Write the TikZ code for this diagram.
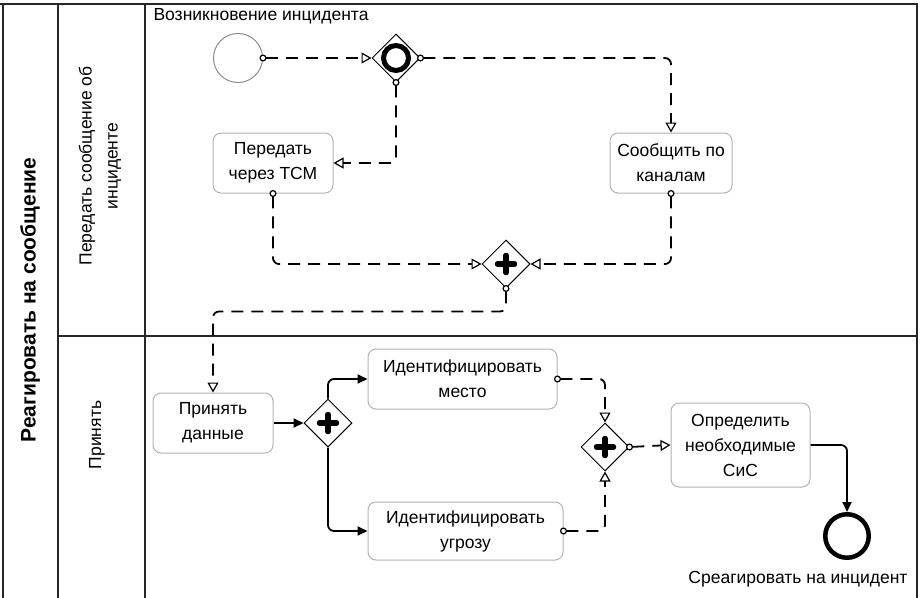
\documentclass[tikz,border=0pt]{standalone}
\usepackage{fontspec}
\setmainfont{Liberation Sans}
\usetikzlibrary{shapes.geometric,arrows.meta}
\begin{document}
\begin{tikzpicture}[x=1pt,y=-1pt,
  lane/.style={line width=1.4pt, draw=black!85},
  task/.style={draw=black!30, line width=1pt, rounded corners=8pt, align=center, font=\fontsize{17.5}{25}\selectfont, inner sep=0pt},
  gw/.style={diamond, draw, line width=1pt, minimum width=48pt, minimum height=48pt, inner sep=0pt, aspect=1},
  plusgw/.style={gw, path picture={\draw[line width=5.5pt, line cap=round]
      ([xshift=-8.5pt]path picture bounding box.center) -- ([xshift=8.5pt]path picture bounding box.center)
      ([yshift=-8.5pt]path picture bounding box.center) -- ([yshift=8.5pt]path picture bounding box.center);}},
  evgw/.style={gw, path picture={\draw[line width=5pt] (path picture bounding box.center) circle[radius=12.5pt];}},
  msg/.style={dash pattern=on 12pt off 8pt, line width=1.8pt, rounded corners=6pt,
      {Circle[fill=white,length=7pt,width=7pt,line width=1.2pt]}-{Triangle[fill=white,length=10pt,width=11pt,line width=1.2pt]},
      shorten <=-3.5pt},
  seq/.style={line width=1.8pt, rounded corners=6pt, -{Triangle[length=10pt,width=9pt]}},
  lbl/.style={font=\fontsize{17.5}{26}\selectfont}
]
\useasboundingbox (0,0) rectangle (920,597);
% pool and lanes
\draw[lane] (3,600) -- (3,4) -- (917,4) -- (917,600);
\draw[lane] (0,4) -- (3,4);
\draw[lane] (58,4) -- (58,600);
\draw[lane] (145,4) -- (145,600);
\draw[lane] (58,336) -- (917,336);
\node[rotate=90, font=\bfseries\fontsize{21}{24}\selectfont] (pool) at (30,300) {Реагировать на сообщение};
\node[rotate=90, align=center, lbl] (lane1) at (100,166) {Передать сообщение об\\инциденте};
\node[rotate=90, lbl] (lane2) at (97,435) {Принять};

% events
\node[circle, draw=black!45, line width=1pt, minimum size=49pt, inner sep=0pt] (start) at (238,58) {};
\node[lbl, anchor=west] (startlbl) at (150,16) {Возникновение инцидента};
\node[circle, draw, line width=4.5pt, minimum size=43.5pt, inner sep=0pt] (end) at (847,536) {};
\node[lbl] (endlbl) at (798,579) {Среагировать на инцидент};

% gateways
\node[evgw] (g1) at (396,58) {};
\node[plusgw] (g2) at (506,264) {};
\node[plusgw] (g3) at (328,423) {};
\node[plusgw] (g4) at (605,447) {};

% tasks
\node[task, minimum width=120pt, minimum height=60pt] (pered) at (273,163) {Передать\\через ТСМ};
\node[task, minimum width=122pt, minimum height=60pt] (soob) at (671,163) {Сообщить по\\каналам};
\node[task, minimum width=120pt, minimum height=60pt] (prin) at (213,423) {Принять\\данные};
\node[task, minimum width=189pt, minimum height=60pt] (mesto) at (462.5,379) {Идентифицировать\\место};
\node[task, minimum width=195pt, minimum height=58pt] (ugroza) at (465.5,531) {Идентифицировать\\угрозу};
\node[task, minimum width=139pt, minimum height=84pt] (opr) at (740.5,445) {Определить\\необходимые\\СиС};

% message flows
\draw[msg] (start.east) -- (g1.west);
\draw[msg] (g1.east) -| (soob.north);
\draw[msg] (g1.south) |- (pered.east);
\draw[msg] (pered.south) |- (g2.west);
\draw[msg] (soob.south) |- (g2.east);
\draw[msg] (g2.south) -- ++(0,23) -| (prin.north);
\draw[msg] (mesto.east) -| (g4.north);
\draw[msg] (ugroza.east) -| (g4.south);
\draw[msg] (g4.east) -- (opr.west);

% sequence flows
\draw[seq] (prin.east) -- (g3.west);
\draw[seq] (g3.north) |- (mesto.west);
\draw[seq] (g3.south) |- (ugroza.west);
\draw[seq] (opr.east) -| (end.north);
\end{tikzpicture}
\end{document}
